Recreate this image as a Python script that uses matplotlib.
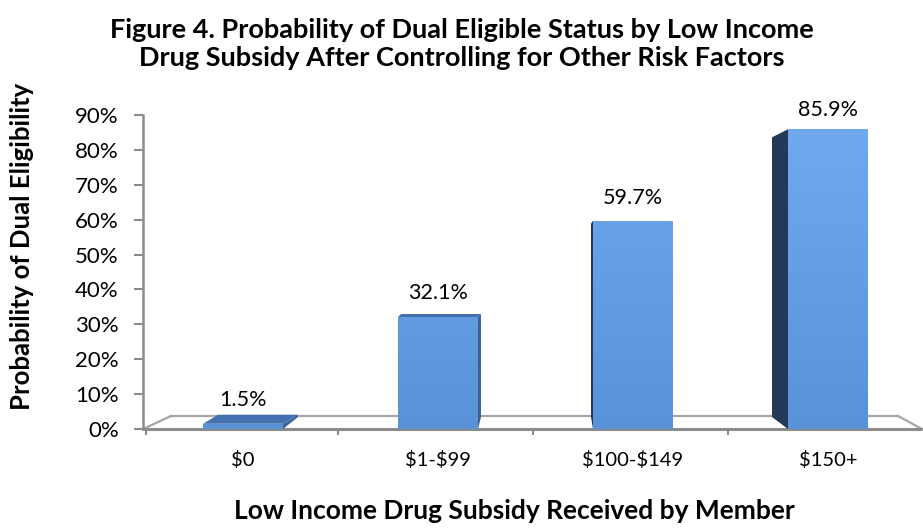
import matplotlib
matplotlib.use("Agg")
import matplotlib.pyplot as plt
import numpy as np
from matplotlib.patches import Polygon, Rectangle
from matplotlib.colors import LinearSegmentedColormap

plt.rcParams['font.family'] = ['Lato', 'DejaVu Sans']

# ---- data ----
categories = ["$0", "$1-$99", "$100-$149", "$150+"]
probabilities = [1.5, 32.1, 59.7, 85.9]
y_ticks = [0, 10, 20, 30, 40, 50, 60, 70, 80, 90]

title = ("Figure 4. Probability of Dual Eligible Status by Low Income\n"
         "Drug Subsidy After Controlling for Other Risk Factors")
x_title = "Low Income Drug Subsidy Received by Member"
y_title = "Probability of Dual Eligibility"

# ---- pseudo-3D styling (pixel offsets of each bar's depth edge) ----
side_dx_px = [15, 3, -2, -16]     # horizontal shift of back edge
top_up_px = [9, 3, -3, -8]        # vertical shift of back edge at the top
bottom_up_px = 12                 # vertical shift of back edge at the floor
label_offset_pt = [10, 10, 9, 7]  # gap between bar top and its value label
bar_width = 0.41

W, H = 923, 529
fig = plt.figure(figsize=(W / 100, H / 100), dpi=100)
ax_left, ax_bottom_px, ax_top_px, ax_right = 143, 429, 115, 920
ax = fig.add_axes([ax_left / W, (H - ax_bottom_px) / H,
                   (ax_right - ax_left) / W, (ax_bottom_px - ax_top_px) / H])
xmin, xmax = -0.513, 3.472
ax.set_xlim(xmin, xmax)
ax.set_ylim(0, 90)

px_x = (ax_right - ax_left) / (xmax - xmin)   # pixels per category unit
px_y = (ax_bottom_px - ax_top_px) / 90.0      # pixels per percent

# floor
floor_depth = 13 / px_y
back_l = (171 - 243) / px_x
back_r = (898 - 243) / px_x
ax.plot([back_l, back_r], [floor_depth, floor_depth], color="#A6A6A6", lw=1.6,
        clip_on=False, zorder=1, solid_capstyle="butt")
ax.plot([xmin, back_l], [0, floor_depth], color="#A6A6A6", lw=1.6, clip_on=False, zorder=1)
ax.plot([back_r, xmax + 0.01], [floor_depth, 0], color="#A6A6A6", lw=1.6, clip_on=False, zorder=1)
ax.plot([xmin, xmax + 0.01], [0, 0], color="#8C8C8C", lw=2.2, clip_on=False, zorder=1,
        solid_capstyle="butt")

# gradient for front faces
grad_cmap = LinearSegmentedColormap.from_list("front", ["#5A92D8", "#72AAF0"])
grad = np.linspace(0, 1, 256).reshape(-1, 1)

side_colors = ["#3A64A0", "#3C619A", "#24395A", "#233957"]
top_color = "#4470B0"

for i, v in enumerate(probabilities):
    x0 = i - bar_width / 2
    x1 = i + bar_width / 2
    dx = side_dx_px[i] / px_x
    tu = top_up_px[i] / px_y
    bu = bottom_up_px / px_y
    xe = x1 if dx > 0 else x0
    side = Polygon([(xe, 0), (xe, v), (xe + dx, v + tu), (xe + dx, bu)],
                   closed=True, facecolor=side_colors[i], edgecolor="none", zorder=3)
    ax.add_patch(side)
    if tu > 0:
        top = Polygon([(x0, v), (x1, v), (x1 + dx, v + tu), (x0 + dx, v + tu)],
                      closed=True, facecolor=top_color, edgecolor="none", zorder=3)
        ax.add_patch(top)
    front = Rectangle((x0, 0), bar_width, v, facecolor="none", edgecolor="none", zorder=4)
    ax.add_patch(front)
    im = ax.imshow(grad, cmap=grad_cmap, origin="lower", extent=(x0, x1, 0, 90),
                   aspect="auto", zorder=4, vmin=0, vmax=1)
    im.set_clip_path(front)
    ax.annotate(f"{v:.1f}%", xy=(i, v), xytext=(0, label_offset_pt[i]),
                textcoords="offset points", ha="center", va="bottom",
                fontsize=15.5, color="#000000", zorder=5)

ax.set_xlim(xmin, xmax)
ax.set_ylim(0, 90)

# axes
for s in ["top", "right", "bottom"]:
    ax.spines[s].set_visible(False)
ax.spines["left"].set_color("#8C8C8C")
ax.spines["left"].set_linewidth(1.8)
ax.set_yticks(y_ticks)
ax.set_yticklabels([f"{t}%" for t in y_ticks], fontsize=16)
ax.tick_params(axis="y", direction="out", length=6.5, width=1.5, color="#8C8C8C", pad=11)
ax.set_xticks(range(len(categories)))
ax.set_xticklabels([c.replace("$", r"\$") for c in categories], fontsize=14.5)
ax.tick_params(axis="x", which="major", length=0, pad=16)
ax.set_xticks([-0.5, 0.487, 1.487, 2.487], minor=True)
ax.tick_params(axis="x", which="minor", direction="out", length=4.5, width=1.5, color="#8C8C8C")

fig.text(0.5, (H - 44) / H, title, ha="center", va="center", fontsize=19.5,
         fontweight="bold", linespacing=1.2)
fig.text(22 / W, (H - 246) / H, y_title, rotation=90, ha="center", va="center",
         fontsize=18.5, fontweight="bold")
fig.text(514 / W, (H - 511) / H, x_title, ha="center", va="center",
         fontsize=19, fontweight="bold")

fig.savefig("out.png", dpi=100, facecolor="white")
